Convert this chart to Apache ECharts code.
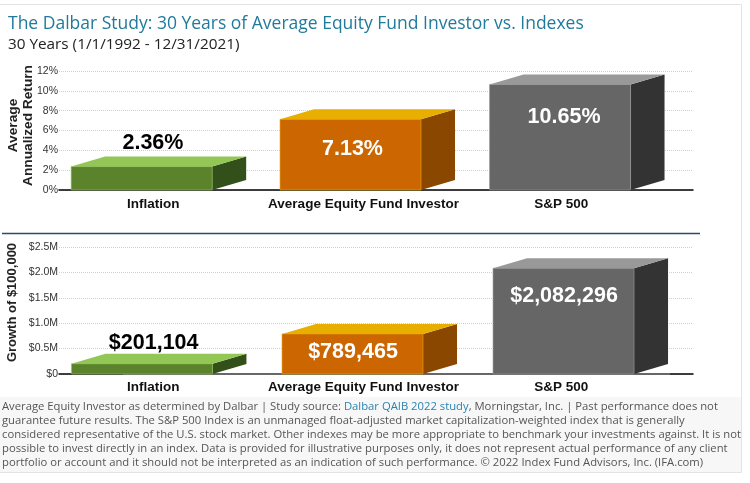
<!DOCTYPE html>
<html>
<head>
<meta charset="utf-8">
<style>
  html, body { margin: 0; padding: 0; background: #fff; }
  #chart { width: 750px; height: 483px; }
</style>
<script src="https://cdn.jsdelivr.net/npm/echarts@6/dist/echarts.min.js"></script>
</head>
<body>
<div id="chart"></div>
<script>
var categories = ['Inflation', 'Average Equity Fund Investor', 'S&P 500'];
var returnValues = [2.36, 7.13, 10.65];
var growthValues = [201104, 789465, 2082296];

var frontColors = ['#5a832c', '#cc6600', '#666666'];
var topColors = ['#92c655', '#e8ae00', '#999999'];
var sideColors = ['#334f1a', '#8a4700', '#333333'];

var barWidth = 141;
var depthX = 34;
var depthY = 10;

var footnoteLines = [
  'Average Equity Investor as determined by Dalbar | Study source: {link|Dalbar QAIB 2022 study}, Morningstar, Inc. | Past performance does not',
  'guarantee future results. The S&P 500 Index is an unmanaged float-adjusted market capitalization-weighted index that is generally',
  'considered representative of the U.S. stock market. Other indexes may be more appropriate to benchmark your investments against. It is not',
  'possible to invest directly in an index. Data is provided for illustrative purposes only, it does not represent actual performance of any client',
  'portfolio or account and it should not be interpreted as an indication of such performance. © 2022 Index Fund Advisors, Inc. (IFA.com)'
];

// 画一个带顶面和侧面的立体柱子
function makeBox(shifts, labelShiftX, labelShiftY, labelFormat) {
  return function (params, api) {
    var i = api.value(0);
    var base = api.coord([i, 0]);
    var top = api.coord([i, api.value(1)]);
    var left = base[0] + shifts[i] - barWidth / 2;
    var right = left + barWidth;
    var dark = i === 0;
    return {
      type: 'group',
      children: [
        {
          type: 'polygon',
          shape: { points: [[right, base[1]], [right + depthX, base[1] - depthY], [right + depthX, top[1] - depthY], [right, top[1]]] },
          style: { fill: sideColors[i] }
        },
        {
          type: 'polygon',
          shape: { points: [[left, top[1]], [left + depthX, top[1] - depthY], [right + depthX, top[1] - depthY], [right, top[1]]] },
          style: { fill: topColors[i] }
        },
        {
          type: 'rect',
          shape: { x: left, y: top[1], width: barWidth, height: base[1] - top[1] },
          style: { fill: frontColors[i], stroke: topColors[i], lineWidth: 0.6 }
        },
        {
          type: 'text',
          style: {
            x: base[0] + labelShiftX[i],
            y: top[1] + labelShiftY[i],
            text: labelFormat(api.value(1)),
            fill: dark ? '#000000' : '#ffffff',
            font: 'bold 21.5px "Liberation Sans", Arial, sans-serif',
            align: 'center',
            verticalAlign: 'middle'
          }
        }
      ]
    };
  };
}

function boxData(values) {
  return values.map(function (v, i) { return [i, v]; });
}

function money(v) {
  return '$' + String(v).replace(/\B(?=(\d{3})+$)/g, ',');
}

function xAxisFor(gridIndex) {
  var labelFont = { color: '#111111', fontSize: 13.5, fontWeight: 'bold', fontFamily: '"Liberation Sans", Arial, sans-serif' };
  return {
    type: 'category',
    gridIndex: gridIndex,
    data: categories,
    axisLine: { show: true, lineStyle: { color: '#000000', width: 1.5 } },
    axisTick: { show: false },
    axisLabel: {
      interval: 0,
      margin: gridIndex === 0 ? 7 : 6,
      formatter: function (value, index) {
        return '{c' + index + '|' + value + '}';
      },
      rich: {
        c0: Object.assign({ padding: [0, 23, 0, 0] }, labelFont),
        c1: Object.assign({ padding: [0, 25, 0, 0] }, labelFont),
        c2: Object.assign({ padding: [0, 52, 0, 0] }, labelFont)
      }
    }
  };
}

function yAxisFor(gridIndex, name, max, interval, format) {
  return {
    type: 'value',
    gridIndex: gridIndex,
    min: 0,
    max: max,
    interval: interval,
    name: name,
    nameLocation: 'middle',
    nameRotate: 90,
    nameMoveOverlap: false,
    nameGap: gridIndex === 0 ? 23 : 39,
    nameTextStyle: {
      color: '#222222', fontSize: gridIndex === 0 ? 13.7 : 13, fontWeight: 'bold', fontFamily: '"Liberation Sans", Arial, sans-serif', lineHeight: 15,
      padding: gridIndex === 0 ? [0, 0, 0, 10] : [0, 0, 0, 16]
    },
    axisLine: { show: false },
    axisTick: { show: false },
    axisLabel: { margin: 1, color: '#333333', fontSize: 10.5, fontFamily: '"Liberation Sans", Arial, sans-serif', formatter: format },
    splitLine: { show: true, lineStyle: { color: '#d0d0d0', type: 'dotted', width: 1 } }
  };
}

var chart = echarts.init(document.getElementById('chart'), null, { renderer: 'canvas', width: 750, height: 483 });

var option = {
  animation: false,
  backgroundColor: '#ffffff',
  title: [
    {
      text: 'The Dalbar Study: 30 Years of Average Equity Fund Investor vs. Indexes',
      left: 8, top: 15,
      textStyle: { color: '#1f7a9c', fontSize: 17.5, fontWeight: 'normal', fontFamily: '"Open Sans", sans-serif' },
      padding: 0
    },
    {
      text: '30 Years (1/1/1992 - 12/31/2021)',
      left: 8, top: 37,
      textStyle: { color: '#222222', fontSize: 15.3, fontWeight: 'normal', fontFamily: '"Open Sans", sans-serif' },
      padding: 0
    },
    {
      text: footnoteLines.join('\n'),
      left: 2, top: 400,
      padding: 0,
      z: 5,
      textStyle: {
        color: '#555555', fontSize: 11.28, fontWeight: 'normal', fontFamily: '"Open Sans", sans-serif', lineHeight: 14,
        rich: { link: { color: '#2a82b0', fontSize: 11.28, fontFamily: '"Open Sans", sans-serif', lineHeight: 14 } }
      }
    }
  ],
  graphic: [
    { type: 'rect', shape: { x: 0, y: 397, width: 741, height: 75 }, style: { fill: '#f7f7f7' }, z: 0 },
    { type: 'polyline', shape: { points: [[0, 4.5], [741.5, 4.5], [741.5, 472.5], [0, 472.5]] }, style: { stroke: '#e3e3e3', lineWidth: 1, fill: null }, z: 1 },
    { type: 'line', shape: { x1: 2, y1: 233.5, x2: 700, y2: 233.5 }, style: { stroke: '#2f4a6a', lineWidth: 1.5 }, z: 1 },
    { type: 'line', shape: { x1: 123, y1: 374, x2: 670, y2: 374 }, style: { stroke: '#777777', lineWidth: 1.5 }, z: 1 }
  ],
  grid: [
    { left: 59, width: 634, top: 71, height: 119, outerBoundsMode: 'none' },
    { left: 59, width: 634, top: 247, height: 127, outerBoundsMode: 'none' }
  ],
  xAxis: [xAxisFor(0), xAxisFor(1)],
  yAxis: [
    yAxisFor(0, 'Average\nAnnualized Return', 12, 2, '{value}%'),
    yAxisFor(1, 'Growth of $100,000', 2500000, 500000, function (v) {
      return v === 0 ? '$0' : '$' + (v / 1000000).toFixed(1) + 'M';
    })
  ],
  series: [
    {
      type: 'custom',
      xAxisIndex: 0,
      yAxisIndex: 0,
      data: boxData(returnValues),
      renderItem: makeBox([-23, -25.5, -27.3], [-11.7, -23.5, -23.3], [-24, 30, 33], function (v) { return v.toFixed(2) + '%'; })
    },
    {
      type: 'custom',
      xAxisIndex: 1,
      yAxisIndex: 1,
      data: boxData(growthValues),
      renderItem: makeBox([-22.7, -23.5, -23.8], [-11, -23, -23.3], [-21, 18, 28], money)
    }
  ]
};
chart.setOption(option);
</script>
</body>
</html>
